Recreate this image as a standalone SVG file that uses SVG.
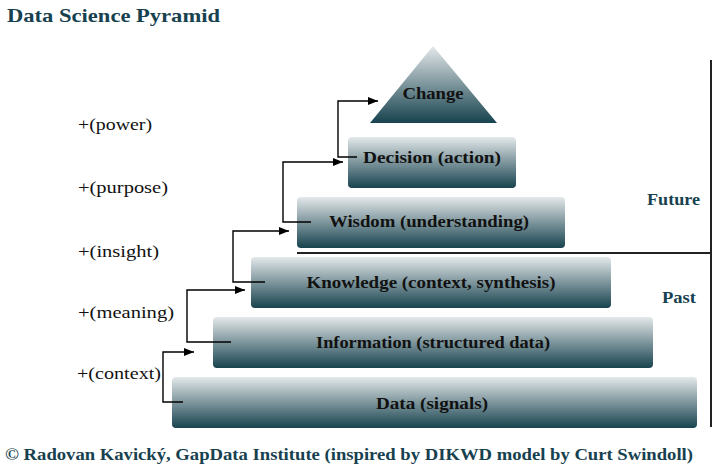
<svg xmlns="http://www.w3.org/2000/svg" width="718" height="466" viewBox="0 0 718 466">
<style>
.box{fill:url(#g);}
.lbl{font-size:16px;font-weight:bold;fill:#111;text-anchor:middle;}
.side{font-size:16px;fill:#111;}
.teal{font-weight:bold;fill:#17414f;}
.conn{fill:none;stroke:#000;stroke-width:1.4;}
.rule{stroke:#222;stroke-width:2;fill:none;}
</style>
<defs>
<linearGradient id="g" x1="0" y1="0" x2="0" y2="1">
<stop offset="0" stop-color="#e4e9eb"/>
<stop offset="0.5" stop-color="#7d959c"/>
<stop offset="1" stop-color="#17434f"/>
</linearGradient>
<marker id="ah" viewBox="0 0 10 10" refX="10" refY="5" markerWidth="10" markerHeight="10" markerUnits="userSpaceOnUse" orient="auto">
<path d="M0,1 L10,5 L0,9 Z" fill="#000"/>
</marker>
</defs>
<rect width="718" height="466" fill="#fff"/>
<g font-family="'Liberation Serif', 'DejaVu Serif', serif">
<text class="teal" x="7" y="22" font-size="19" textLength="213" lengthAdjust="spacingAndGlyphs">Data Science Pyramid</text>

<g id="data"><rect class="box" x="172" y="377" width="525" height="51" rx="4"/><text class="lbl" x="432" y="409" textLength="112" lengthAdjust="spacingAndGlyphs">Data (signals)</text></g>
<g id="information"><rect class="box" x="213" y="317" width="440" height="51" rx="4"/><text class="lbl" x="433" y="348" textLength="234" lengthAdjust="spacingAndGlyphs">Information (structured data)</text></g>
<g id="knowledge"><rect class="box" x="251" y="257" width="360" height="51" rx="4"/><text class="lbl" x="431" y="288" textLength="249" lengthAdjust="spacingAndGlyphs">Knowledge (context, synthesis)</text></g>
<g id="wisdom"><rect class="box" x="297" y="197" width="268" height="51" rx="4"/><text class="lbl" x="429" y="227" textLength="200" lengthAdjust="spacingAndGlyphs">Wisdom (understanding)</text></g>
<g id="decision"><rect class="box" x="348" y="137" width="168" height="51" rx="4"/><text class="lbl" x="432" y="163" textLength="138" lengthAdjust="spacingAndGlyphs">Decision (action)</text></g>
<g id="change"><polygon class="box" points="433,46 497,123 370,123"/><text class="lbl" x="433" y="99" textLength="61" lengthAdjust="spacingAndGlyphs">Change</text></g>

<g id="side-labels">
<text class="side" x="78" y="130" textLength="74" lengthAdjust="spacingAndGlyphs">+(power)</text>
<text class="side" x="78" y="193" textLength="90" lengthAdjust="spacingAndGlyphs">+(purpose)</text>
<text class="side" x="78" y="257" textLength="81" lengthAdjust="spacingAndGlyphs">+(insight)</text>
<text class="side" x="78" y="318" textLength="96" lengthAdjust="spacingAndGlyphs">+(meaning)</text>
<text class="side" x="77" y="379" textLength="84" lengthAdjust="spacingAndGlyphs">+(context)</text>
</g>

<g id="timeline">
<line class="rule" x1="711" y1="60" x2="711" y2="427"/>
<line class="rule" x1="297" y1="253" x2="711" y2="253"/>
<text class="teal" x="647" y="205" font-size="16" textLength="53" lengthAdjust="spacingAndGlyphs">Future</text>
<text class="teal" x="662" y="303" font-size="16" textLength="34" lengthAdjust="spacingAndGlyphs">Past</text>
</g>

<text class="teal" x="5" y="460" font-size="16" textLength="688" lengthAdjust="spacingAndGlyphs">© Radovan Kavický, GapData Institute (inspired by DIKWD model by Curt Swindoll)</text>
</g>

<g id="connectors">
<polyline class="conn" points="183,402 163,402 163,352 194,352" marker-end="url(#ah)"/>
<polyline class="conn" points="231,342 187,342 187,290 245,290" marker-end="url(#ah)"/>
<polyline class="conn" points="265,282 233,282 233,231 289,231" marker-end="url(#ah)"/>
<polyline class="conn" points="311,222 283,222 283,162 343,162" marker-end="url(#ah)"/>
<polyline class="conn" points="357,157 338,157 338,101 378,101" marker-end="url(#ah)"/>
</g>
</svg>
